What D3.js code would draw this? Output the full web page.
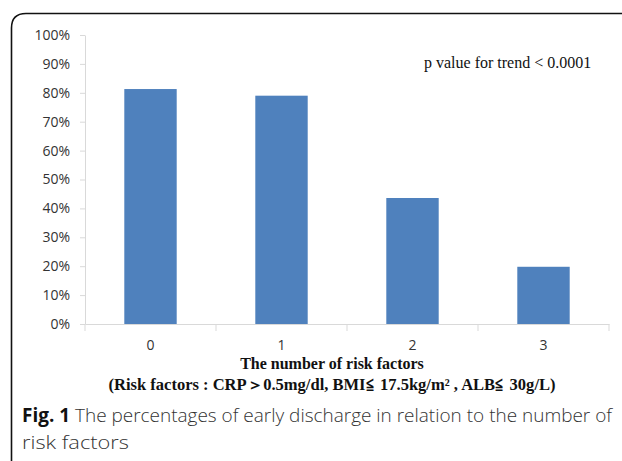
<!DOCTYPE html>
<html>
<head>
<meta charset="utf-8">
<script src="https://cdn.jsdelivr.net/npm/d3@7"></script>
<style>
  body { margin: 0; background: #fff; }
</style>
</head>
<body>
<svg id="drawing_region"></svg>
<script>
var categories = ["0", "1", "2", "3"];
var percentages = [0.813, 0.79, 0.436, 0.198];
var yTicks = [0, 0.1, 0.2, 0.3, 0.4, 0.5, 0.6, 0.7, 0.8, 0.9, 1.0];

var width = 622;
var height = 461;
var margin = { top: 35, right: 13, bottom: 137, left: 85 };

var svg = d3.select('#drawing_region')
    .attr('width', width)
    .attr('height', height);

// outer frame with rounded top-left corner
svg.append('path')
    .attr('d', 'M11.5,' + (height + 2) + ' L11.5,28 Q11.5,13.5 26,13.5 L' + (width + 2) + ',13.5')
    .attr('fill', 'none')
    .attr('stroke', '#111')
    .style('stroke-width', '1.6px');

var g = svg.append('g')
    .attr('transform', `translate(${margin.left}, ${margin.top})`);

var innerW = width - margin.left - margin.right;
var innerH = 289;

var x = d3.scaleBand()
    .domain(categories)
    .range([0, innerW])
    .paddingInner(0.6)
    .paddingOuter(0.3);

var y = d3.scaleLinear()
    .domain([0, 1])
    .range([innerH, 0]);

// y axis
var yAxis = g.append('g')
    .call(d3.axisLeft(y).tickValues(yTicks).tickFormat(d3.format('.0%')).tickSize(5).tickSizeOuter(0));
yAxis.select('.domain').attr('stroke', '#d9d9d9');
yAxis.selectAll('.tick line').attr('stroke', '#d9d9d9');
yAxis.selectAll('.tick text')
    .attr('x', -15)
    .style('font-family', '"Open Sans", sans-serif')
    .style('font-size', '14px')
    .style('fill', '#333');

// x axis
var xAxis = g.append('g')
    .attr('transform', `translate(0, ${innerH})`)
    .call(d3.axisBottom(x).tickSize(0).tickSizeOuter(0));
xAxis.select('.domain').attr('stroke', '#d9d9d9');
xAxis.selectAll('.tick text')
    .attr('y', 16)
    .style('font-family', '"Open Sans", sans-serif')
    .style('font-size', '14px')
    .style('fill', '#333');

// category boundary ticks
var step = x.step();
var bounds = categories.map(c => x(c) - (step - x.bandwidth()) / 2).concat([innerW]);
g.selectAll('.bound')
    .data(bounds)
    .enter()
    .append('line')
    .attr('x1', d => d).attr('x2', d => d)
    .attr('y1', innerH).attr('y2', innerH + 7)
    .attr('stroke', '#d9d9d9');

// bars
g.selectAll('.bar')
    .data(percentages)
    .enter()
    .append('rect')
    .attr('x', (d, i) => x(categories[i]))
    .attr('y', d => y(d))
    .attr('width', x.bandwidth())
    .attr('height', d => innerH - y(d))
    .attr('fill', '#4f81bd');

// annotation
svg.append('text')
    .attr('x', 424)
    .attr('y', 68)
    .style('font-family', '"Liberation Serif", serif')
    .style('font-size', '16px')
    .style('fill', '#111')
    .text('p value for trend < 0.0001');

// x axis titles
svg.append('text')
    .attr('x', 332)
    .attr('y', 369)
    .attr('text-anchor', 'middle')
    .style('font-family', '"Liberation Serif", serif')
    .style('font-size', '16px')
    .style('font-weight', 'bold')
    .style('fill', '#111')
    .text('The number of risk factors');

svg.append('text')
    .attr('x', 332)
    .attr('y', 390)
    .attr('text-anchor', 'middle')
    .style('font-family', '"Liberation Serif", serif')
    .style('font-size', '16px')
    .style('font-weight', 'bold')
    .style('fill', '#111')
    .attr('textLength', 447)
    .attr('lengthAdjust', 'spacingAndGlyphs')
    .text('(Risk factors : CRP\uFF1E0.5mg/dl,  BMI\u2266 17.5kg/m\u00B2 ,  ALB\u2266 30g/L)');

// caption
var cap1 = svg.append('text')
    .attr('x', 22)
    .attr('y', 422)
    .style('font-family', '"Open Sans", sans-serif')
    .style('font-size', '19px')
    .style('fill', '#333')
    .attr('textLength', 590)
    .attr('lengthAdjust', 'spacingAndGlyphs');
cap1.append('tspan').style('font-weight', 'bold').style('fill', '#111').text('Fig. 1');
cap1.append('tspan').style('font-weight', '300').text(' The percentages of early discharge in relation to the number of');

svg.append('text')
    .attr('x', 22)
    .attr('y', 449)
    .style('font-family', '"Open Sans", sans-serif')
    .style('font-size', '19px')
    .style('font-weight', '300')
    .style('fill', '#333')
    .attr('textLength', 107)
    .attr('lengthAdjust', 'spacingAndGlyphs')
    .text('risk factors');
</script>
</body>
</html>
